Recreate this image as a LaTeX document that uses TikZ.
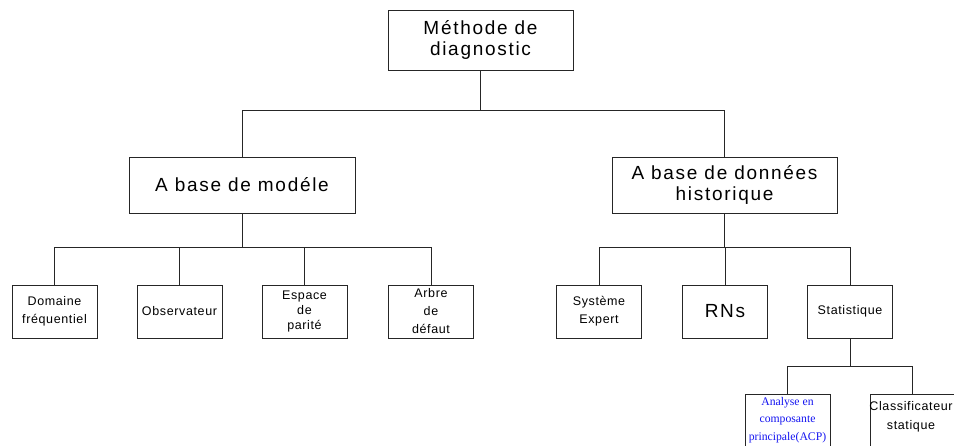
\documentclass[tikz,border=0pt]{standalone}
\usepackage{fontspec}
\setmainfont{Liberation Sans}
\newfontfamily\cadfont[LetterSpace=9]{Liberation Sans}
\newfontfamily\cadsmall[LetterSpace=5]{Liberation Sans}
\newfontfamily\serifacp{Liberation Serif}
\definecolor{acpblue}{RGB}{20,20,240}
\tikzset{
  box/.style={draw=black!85, line width=0.8pt, rectangle, inner sep=0pt, align=center},
  bigbox/.style={box, font=\cadfont\fontsize{19}{21}\selectfont},
  smallbox/.style={box, minimum width=85pt, minimum height=53pt, font=\cadsmall\fontsize{12.5}{18}\selectfont},
  link/.style={draw=black!85, line width=0.8pt}
}
\begin{document}
\begin{tikzpicture}[x=1pt,y=-1pt]
\useasboundingbox (0,0) rectangle (954,446);
\clip (0,0) rectangle (954,446);
% top
\node[bigbox, minimum width=185pt, minimum height=60pt] (top) at (480.5,40) {Méthode de\\diagnostic};
% level 2
\node[bigbox, minimum width=226pt, minimum height=56pt] (lm) at (242,185) {A base de modéle};
\node[bigbox, minimum width=225pt, minimum height=56pt] (rm) at (724.5,185) {A base de données\\historique};
% level 3 left
\node[smallbox] (dom) at (54.5,311.5) {Domaine\\fréquentiel};
\node[smallbox] (obs) at (179.5,311.5) {Observateur};
\node[smallbox, font=\cadsmall\fontsize{12.5}{15}\selectfont] (esp) at (304.5,311.5) {Espace\\de\\parité};
\node[smallbox, font=\cadsmall\fontsize{12.5}{18}\selectfont] (arb) at (431,311.5) {Arbre\\de\\défaut};
% level 3 right
\node[smallbox] (sys) at (599,311.5) {Système\\Expert};
\node[smallbox, font=\cadfont\fontsize{19}{21}\selectfont] (rns) at (725,311.5) {RNs};
\node[smallbox] (sta) at (850,311.5) {Statistique};
% level 4
\node[box, minimum width=85pt, minimum height=60pt, anchor=north] (acp) at (787.5,394) {};
\node[anchor=north, align=center, font=\serifacp\fontsize{11.7}{17.5}\selectfont, text=acpblue, inner sep=0pt] (acpt) at (787.5,397) {Analyse en\\composante\\principale(ACP)};
\node[box, minimum width=85pt, minimum height=60pt, anchor=north] (cla) at (912.5,394) {};
\node[anchor=north, align=center, font=\cadsmall\fontsize{12.5}{19}\selectfont, inner sep=0pt] (clat) at (911,401) {Classificateur\\statique};
% junctions
\coordinate (j1) at (0,110);
\coordinate (j2) at (0,247);
\coordinate (j3) at (0,366);
% links
\draw[link] (top.south) -- (top.south |- j1);
\draw[link] (lm.north) -- (lm.north |- j1) -- (rm.north |- j1) -- (rm.north);
\draw[link] (lm.south) -- (lm.south |- j2);
\draw[link] (dom.north) -- (dom.north |- j2) -- (arb.north |- j2) -- (arb.north);
\draw[link] (obs.north) -- (obs.north |- j2);
\draw[link] (esp.north) -- (esp.north |- j2);
\draw[link] (rm.south) -- (rm.south |- j2);
\draw[link] (sys.north) -- (sys.north |- j2) -- (sta.north |- j2) -- (sta.north);
\draw[link] (rns.north) -- (rns.north |- j2);
\draw[link] (sta.south) -- (sta.south |- j3);
\draw[link] (acp.north) -- (acp.north |- j3) -- (cla.north |- j3) -- (cla.north);
\end{tikzpicture}
\end{document}
